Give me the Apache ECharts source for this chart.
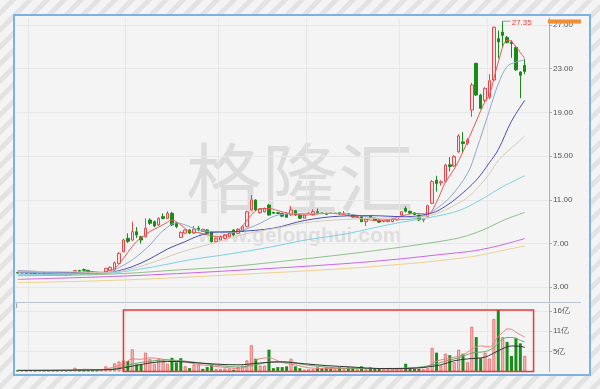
<!DOCTYPE html>
<html><head><meta charset="utf-8">
<script src="https://cdn.jsdelivr.net/npm/echarts@6/dist/echarts.min.js"></script>
<style>
html,body{margin:0;padding:0;}
#wrap{position:relative;width:600px;height:389px;overflow:hidden;background:repeating-linear-gradient(135deg,#f4f4f4 0px,#f4f4f4 7px,#e3e3e3 7px,#e3e3e3 12px);}
#panel{position:absolute;left:13px;top:14px;width:574px;height:358px;border:2px solid #7db1e3;background:#f4f4f4;}
#c{position:absolute;left:0;top:0;width:600px;height:389px;}
</style></head><body>
<div id="wrap"><div id="panel"></div><div id="c"></div></div>
<script>
// [open, close, low, high]
const candles = [
[4.35,4.30,4.26,4.40],[4.30,4.34,4.27,4.38],[4.34,4.28,4.25,4.37],[4.28,4.31,4.24,4.36],[4.31,4.25,4.22,4.34],
[4.25,4.27,4.21,4.31],[4.27,4.22,4.18,4.29],[4.22,4.19,4.15,4.25],[4.19,4.16,4.12,4.22],[4.16,4.14,4.10,4.19],
[4.14,4.15,4.10,4.18],[4.15,4.12,4.08,4.18],[4.12,4.22,4.10,4.26],[4.22,4.52,4.20,4.58],[4.52,4.46,4.40,4.60],
[4.62,4.55,4.50,4.70],[4.55,4.38,4.34,4.58],[4.38,4.30,4.26,4.42],[4.30,4.26,4.22,4.34],[4.28,4.35,4.25,4.40],
[4.42,4.72,4.40,4.78],[4.55,4.82,4.50,4.90],[4.57,5.25,4.52,5.35],[5.18,6.10,5.10,6.20],[6.25,7.32,6.20,7.45],
[7.47,7.20,7.05,7.93],[7.32,8.08,7.25,9.00],[8.08,7.78,7.50,8.50],[7.62,7.32,7.00,7.70],[7.62,8.39,7.55,9.30],
[9.15,8.85,8.70,9.30],[9.00,8.60,8.50,9.10],[8.70,9.30,8.60,9.40],[9.46,9.30,9.20,9.76],[9.30,9.76,9.25,9.95],
[9.76,8.70,8.60,9.90],[8.85,8.55,8.40,8.95],[7.56,8.02,7.50,8.10],[7.95,8.24,7.90,8.30],[8.24,7.95,7.90,8.30],
[7.95,8.30,7.90,8.60],[8.40,8.25,8.15,8.60],[8.10,8.30,8.05,8.35],[8.24,8.00,7.95,8.30],[8.08,7.17,7.10,8.15],
[7.17,7.47,7.10,7.55],[7.32,7.62,7.28,7.70],[7.47,7.78,7.40,7.85],[7.62,7.93,7.55,8.00],[8.24,7.78,7.70,8.30],
[7.93,8.30,7.90,8.40],[8.10,8.54,8.05,8.65],[8.54,9.90,8.50,10.00],[10.07,10.98,10.00,11.44],[10.98,10.07,9.95,11.05],
[9.82,10.13,9.75,10.20],[9.90,10.20,9.85,10.30],[10.52,9.61,9.55,10.60],[9.85,9.78,9.70,9.90],[9.82,9.75,9.70,9.88],
[9.76,9.50,9.45,9.80],[9.70,9.40,9.35,9.75],[9.61,10.07,9.55,10.43],[10.00,9.60,9.55,10.05],[9.61,9.32,9.25,9.65],
[9.32,9.61,9.30,9.65],[9.76,9.78,9.70,9.85],[9.61,9.91,9.58,10.13],[9.91,9.82,9.78,10.20],[9.78,9.76,9.70,9.82],
[9.76,9.67,9.62,9.80],[9.76,9.77,9.70,9.82],[9.77,9.75,9.70,9.80],[9.82,9.70,9.65,9.85],[9.75,9.77,9.70,9.98],
[9.72,9.70,9.65,9.76],[9.61,9.42,9.38,9.65],[9.50,9.52,9.45,9.56],[9.46,9.00,8.95,9.50],[9.00,9.30,8.60,9.35],
[9.52,9.40,9.35,9.55],[9.30,9.10,9.05,9.35],[9.15,8.95,8.90,9.20],[9.00,9.02,8.95,9.05],[9.00,9.15,8.95,9.20],
[9.00,9.22,8.95,9.28],[9.15,9.46,9.10,9.50],[9.61,9.91,9.55,9.95],[10.20,9.95,9.85,10.40],[9.95,9.80,9.70,10.00],
[9.80,9.65,9.60,9.85],[9.60,9.15,9.05,9.65],[9.15,9.25,8.95,9.30],[9.45,10.46,9.40,10.55],[10.68,12.66,10.60,12.80],
[12.80,12.50,11.75,13.20],[12.55,12.65,12.30,12.80],[12.66,14.18,12.60,14.30],[14.20,14.05,13.60,14.90],[14.10,14.95,14.00,15.10],
[15.40,16.85,15.30,17.00],[16.30,16.15,15.40,17.20],[16.17,16.47,16.00,16.65],[19.22,21.51,18.60,21.70],[23.49,20.59,20.50,23.55],
[20.59,19.37,19.30,20.70],[20.10,21.20,19.90,21.30],[20.40,21.90,20.20,22.50],[21.96,26.79,21.90,26.85],[25.75,25.45,23.95,26.50],
[26.35,26.05,25.00,27.35],[25.85,25.40,25.30,26.00],[25.45,25.30,24.00,25.60],[24.95,22.90,22.80,25.10],[22.70,22.40,20.30,22.75],
[23.30,22.75,22.50,23.90]
];
// volume in 亿
const volumes = [
0.35,0.3,0.35,0.3,0.3,0.3,0.35,0.3,0.3,0.3,
0.3,0.3,0.35,1.0,0.6,0.5,0.45,0.4,0.35,0.55,
1.4,0.8,2.2,2.7,3.0,2.8,6.0,1.9,1.9,5.1,
3.4,2.1,3.3,3.0,2.1,3.7,2.5,3.6,1.4,0.9,
1.9,1.9,0.7,1.2,1.8,0.7,0.7,0.8,0.8,0.5,
1.2,1.6,3.0,7.1,3.45,1.6,1.6,5.9,0.9,1.2,
1.2,1.4,3.45,1.4,0.9,0.5,0.6,0.6,1.1,0.8,
1.1,0.8,0.6,1.1,0.6,1.1,1.1,0.6,1.4,0.6,
1.1,0.9,0.9,0.6,0.6,0.6,0.7,0.6,2.1,0.8,
0.7,0.7,0.6,0.9,6.4,5.1,1.6,4.8,4.4,2.5,
5.9,4.8,2.5,12.1,9.3,3.6,5.1,3.5,14.2,16.6,
9.3,8.0,4.2,9.1,7.6,4.2
];
// 1 = red (up) volume bar, 0 = green
const volUp = [
0,1,0,1,0,1,0,0,0,0,
1,0,1,1,0,0,0,0,0,1,
1,1,1,1,1,0,1,0,0,1,
1,1,1,1,1,0,0,0,1,0,
1,1,0,0,0,1,1,1,1,0,
1,1,1,1,0,1,1,0,0,0,
0,0,1,0,0,1,1,1,0,0,
0,0,1,0,1,0,0,1,0,1,
0,0,0,1,1,1,1,1,0,0,
0,0,1,1,1,0,1,1,0,1,
1,0,1,1,0,0,1,1,1,0,
1,0,0,0,0,1
];
// price moving averages, [day index, value]
const ma5 = [[0,4.32],[6,4.28],[12,4.18],[16,4.45],[19,4.36],[21,4.55],[22,4.75],[23,5.1],[25,6.2],[27,7.2],[28,7.5],[30,8.1],[32,8.5],[34,8.95],[35,9.15],[37,8.7],[39,8.1],[41,8.0],[43,7.8],[46,7.6],[48,7.9],[50,8.2],[52,9.1],[53,9.6],[55,10.2],[57,10.2],[60,9.9],[65,9.6],[70,9.76],[74,9.65],[79,9.2],[83,9.1],[87,9.5],[90,9.75],[93,9.7],[95,10.8],[97,12.6],[99,13.8],[101,15.4],[104,18.2],[106,20.0],[107,20.6],[109,23.6],[111,25.6],[112,25.5],[113,25.0],[115,23.95]];
const ma10 = [[0,4.38],[8,4.3],[14,4.25],[20,4.3],[22,4.6],[26,5.5],[30,6.86],[32,7.8],[34,8.5],[36,8.9],[38,8.7],[41,8.25],[45,8.05],[48,8.0],[50,8.1],[53,8.5],[55,8.85],[59,9.6],[65,9.76],[73,9.76],[79,9.46],[84,9.2],[88,9.2],[92,9.5],[95,10.2],[98,11.2],[102,13.4],[104,15.5],[107,19.2],[109,21.6],[111,23.2],[113,23.6],[115,23.8]];
const ma20 = [[0,4.5],[12,4.35],[20,4.3],[22,4.42],[26,4.88],[30,5.6],[34,6.5],[38,7.17],[41,7.7],[45,8.05],[50,8.1],[58,8.4],[65,9.1],[73,9.5],[80,9.55],[88,9.45],[94,9.8],[97,10.4],[100,11.3],[104,12.8],[107,14.4],[109,15.6],[112,18.2],[115,20.1]];
const ma30 = [[0,4.48],[12,4.4],[20,4.33],[25,4.6],[30,5.18],[37,6.2],[45,7.1],[52,7.9],[60,8.5],[65,8.9],[74,9.2],[85,9.35],[92,9.45],[96,9.9],[100,10.7],[102,11.2],[105,12.4],[107,13.4],[109,14.6],[111,15.4],[113,16.1],[115,16.85]];
const ma60 = [[0,4.15],[12,4.18],[20,4.25],[24,4.42],[31,4.88],[39,5.5],[48,6.04],[57,6.65],[65,7.3],[74,7.85],[81,8.45],[87,8.95],[93,9.35],[100,10.0],[105,11.0],[110,12.2],[115,13.2]];
const ma120 = [[0,4.05],[12,4.1],[24,4.25],[36,4.57],[48,4.88],[63,5.5],[74,6.0],[83,6.45],[91,6.9],[100,7.5],[104,8.0],[107,8.5],[110,9.1],[115,9.85]];
const ma250 = [[0,3.72],[24,4.02],[48,4.5],[74,5.15],[87,5.6],[95,5.95],[103,6.3],[107,6.6],[111,7.0],[115,7.45]];
const maLong = [[0,3.41],[24,3.66],[48,4.12],[74,4.7],[87,5.1],[95,5.4],[103,5.8],[107,6.1],[111,6.45],[115,6.77]];
// volume moving averages
const vma5 = [[0,0.3],[12,0.3],[15,0.6],[19,0.5],[22,1.3],[24,2.0],[26,3.4],[28,3.3],[30,3.7],[33,3.3],[36,2.9],[38,2.6],[41,1.9],[44,1.5],[47,1.1],[50,0.8],[52,1.4],[54,3.1],[57,3.7],[60,2.4],[63,1.8],[66,1.0],[70,0.8],[76,0.8],[82,0.8],[86,0.6],[89,1.0],[92,1.0],[95,2.8],[98,3.6],[101,4.5],[103,6.0],[105,6.9],[107,6.7],[109,9.5],[110,10.5],[111,11.5],[112,11.4],[113,10.6],[115,9.3]];
const vma10 = [[0,0.3],[20,0.5],[23,1.0],[26,2.0],[30,2.8],[34,3.1],[38,2.8],[42,2.2],[46,1.6],[50,1.2],[54,1.8],[58,2.7],[62,2.4],[66,1.7],[72,1.0],[80,0.8],[88,0.9],[93,1.5],[97,2.8],[100,3.7],[103,5.0],[106,5.4],[108,6.5],[110,8.8],[112,9.2],[114,8.4],[115,8.0]];
const vma20 = [[0,0.3],[21,0.5],[24,1.0],[28,1.9],[32,2.6],[36,2.7],[40,2.4],[45,2.0],[50,1.8],[55,2.3],[60,2.6],[65,2.1],[70,1.6],[76,1.2],[82,0.8],[88,0.8],[92,1.1],[96,1.8],[99,2.9],[102,3.4],[106,3.9],[109,5.6],[112,6.9],[114,6.8],[115,6.5]];

const priceTicks = [3, 7, 11, 15, 19, 23, 27];
const volTicks = [5.45, 10.9, 16.35];
const volTickLabels = ['5亿', '11亿', '16亿'];
const xGridDays = [3, 25, 46, 66, 87, 107];
const padDays = ['P1', 'P2', 'P3', 'P4', 'P5'];
const categories = candles.map((_, i) => 'D' + (i + 1)).concat(padDays);
// highlighted box: [first day index, last day index, top volume]
const box = [24, 117, 16.6];

const chart = echarts.init(document.getElementById('c'), null, {renderer: 'canvas'});
const gridLine = {show: true, lineStyle: {color: '#e8e8e8', width: 1}};
function line(name, pts, color, xi, yi, w) {
  return {name, type: 'line', xAxisIndex: xi, yAxisIndex: yi, data: pts, showSymbol: false, symbol: 'none',
    smooth: 0.35, lineStyle: {width: w || 1, color}, itemStyle: {color}, silent: true, z: 3};
}
const xSplit = {show: true, interval: (idx) => xGridDays.indexOf(idx) >= 0, lineStyle: {color: '#e6e6e6'}};
const option = {
  animation: false,
  backgroundColor: 'transparent',
  textStyle: {fontFamily: 'Liberation Sans'},
  grid: [
    {left: 15.4, right: 51, top: 18, height: 284.5},
    {left: 15.4, right: 51, top: 304, height: 67.5}
  ],
  xAxis: [
    {type: 'category', gridIndex: 0, data: categories, boundaryGap: true, axisLine: {show: false}, axisTick: {show: false}, axisLabel: {show: false}, splitLine: xSplit},
    {type: 'category', gridIndex: 1, data: categories, boundaryGap: true, axisLine: {show: false}, axisTick: {show: false}, axisLabel: {show: false}, splitLine: xSplit}
  ],
  yAxis: [
    {type: 'value', gridIndex: 0, position: 'right', min: 1.6, max: 27.64,
     axisLine: {show: true, lineStyle: {color: '#a8b0b8'}},
     axisTick: {show: true, length: 3, customValues: priceTicks, lineStyle: {color: '#a8b0b8'}},
     axisLabel: {customValues: priceTicks, formatter: v => v.toFixed(2), color: '#555', fontSize: 8, margin: 4},
     splitLine: gridLine},
    {type: 'value', gridIndex: 1, position: 'right', min: 0, max: 18.24,
     axisLine: {show: true, lineStyle: {color: '#a8b0b8'}},
     axisTick: {show: true, length: 3, customValues: volTicks, lineStyle: {color: '#a8b0b8'}},
     axisLabel: {customValues: volTicks, formatter: v => volTickLabels[volTicks.indexOf(v)] || '', color: '#555', fontSize: 8, margin: 4},
     splitLine: gridLine}
  ],
  graphic: [
    {type: 'text', left: 'center', top: 140, z: 0, silent: true,
     style: {text: '格隆汇', font: '400 76px "Noto Sans CJK SC"', fill: '#dcdcdc'}},
    {type: 'text', left: 198, top: 226, z: 0, silent: true,
     style: {text: 'www.gelonghui.com', font: 'bold 21px "Liberation Sans"', fill: '#dedede'}},
    {type: 'line', z: 1, silent: true, shape: {x1: 15, y1: 302.5, x2: 581, y2: 302.5}, style: {stroke: '#b9c5d1', lineWidth: 1}},
    {type: 'rect', z: 10, silent: true, shape: {x: 548, y: 19.5, width: 33, height: 4}, style: {fill: '#f28c35'}},
    {type: 'text', left: 16, top: 303, z: 5, silent: true, style: {text: 'i', font: '7px "Liberation Sans"', fill: '#777'}}
  ],
  series: [
    {name: 'K', type: 'candlestick', xAxisIndex: 0, yAxisIndex: 0, data: candles, barWidth: '68%', z: 2,
     itemStyle: {color: '#fbe1e1', color0: '#178c17', borderColor: '#e4474b', borderColor0: '#178c17', borderWidth: 1},
     markPoint: {symbol: 'rect', symbolSize: [8, 1], symbolOffset: [4, 0], itemStyle: {color: '#999'}, silent: true,
       label: {show: true, position: 'right', distance: 1, color: '#e2433c', fontSize: 8, offset: [0, 2], formatter: p => Number(p.value).toFixed(2)},
       data: [{type: 'max', valueDim: 'highest'}]}},
    line('MA5', ma5, '#e05a55', 0, 0),
    line('MA10', ma10, '#8fa7cc', 0, 0),
    line('MA20', ma20, '#4a4cb6', 0, 0),
    line('MA30', ma30, '#d6cab6', 0, 0),
    line('MA60', ma60, '#7fd0e2', 0, 0),
    line('MA120', ma120, '#8fbf8a', 0, 0),
    line('MA250', ma250, '#cc66e6', 0, 0),
    line('MAL', maLong, '#eed08e', 0, 0),
    {name: 'VOL', type: 'bar', xAxisIndex: 1, yAxisIndex: 1, barWidth: '68%', z: 2,
     data: volumes.map((v, i) => ({value: v, itemStyle: volUp[i] ? {color: '#f6b9b9', borderColor: '#e46464', borderWidth: 0.8} : {color: '#1a8c1a'}}))},
    line('VMA5', vma5, '#e98080', 1, 1),
    line('VMA10', vma10, '#6aa86a', 1, 1),
    line('VMA20', vma20, '#333333', 1, 1),
    {name: 'BOX', type: 'custom', xAxisIndex: 1, yAxisIndex: 1, silent: true, z: 5, clip: false,
     data: [box],
     renderItem: (params, api) => {
       const p0 = api.coord([api.value(0), api.value(2)]);
       const p1 = api.coord([api.value(1), 0]);
       return {type: 'rect', shape: {x: p0[0], y: p0[1], width: p1[0] - p0[0], height: p1[1] - p0[1]},
         style: {fill: 'none', stroke: '#e23b3b', lineWidth: 1.5}};
     },
     encode: {x: [0, 1], y: 2}}
  ]
};
chart.setOption(option);
</script></body></html>
